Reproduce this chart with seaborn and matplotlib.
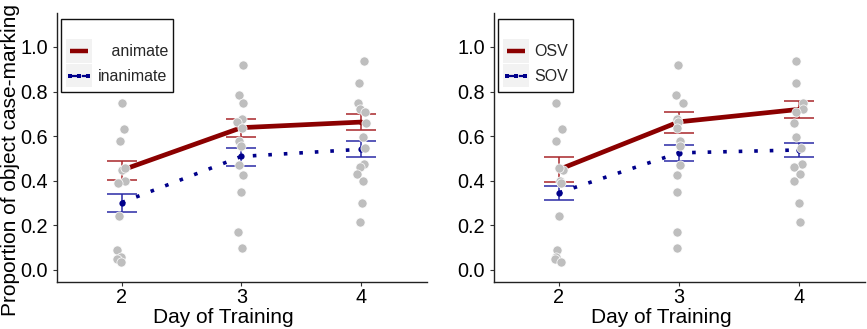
import numpy as np
import pandas as pd
import matplotlib
matplotlib.use("Agg")
import matplotlib.pyplot as plt
import seaborn as sns
from matplotlib.lines import Line2D
from matplotlib.patches import Rectangle
from matplotlib.legend_handler import HandlerBase

# ---------------- data ----------------
days = [2, 3, 4]

# per-participant proportions (grey points)
day2_points = [0.75, 0.63, 0.58, 0.45, 0.455, 0.40, 0.39, 0.24, 0.09, 0.06, 0.05, 0.035]
day3_points = [0.92, 0.785, 0.75, 0.675, 0.665, 0.635, 0.58, 0.555, 0.47, 0.425, 0.35, 0.17, 0.10]
day4_points = [0.935, 0.84, 0.75, 0.72, 0.71, 0.66, 0.595, 0.545, 0.475, 0.46, 0.43, 0.40, 0.30, 0.215]

# left panel: animacy
animate_mean = [0.447, 0.638, 0.663]
animate_lo = [0.405, 0.598, 0.629]
animate_hi = [0.490, 0.677, 0.697]
inanimate_mean = [0.302, 0.509, 0.541]
inanimate_lo = [0.262, 0.468, 0.505]
inanimate_hi = [0.341, 0.548, 0.577]

# right panel: word order
osv_mean = [0.450, 0.664, 0.720]
osv_lo = [0.393, 0.616, 0.682]
osv_hi = [0.508, 0.709, 0.757]
sov_mean = [0.346, 0.525, 0.538]
sov_lo = [0.312, 0.490, 0.506]
sov_hi = [0.378, 0.562, 0.570]

left_labels = ["   animate", "inanimate"]
right_labels = ["OSV", "SOV"]
y_ticks = [0.0, 0.2, 0.4, 0.6, 0.8, 1.0]
y_label = "Proportion of object case-marking"
x_label = "Day of Training"

pts = pd.DataFrame({
    "day": [2] * len(day2_points) + [3] * len(day3_points) + [4] * len(day4_points),
    "prop": day2_points + day3_points + day4_points,
})

# ---------------- style ----------------
sns.set_theme(style="ticks")
plt.rcParams["font.family"] = ["Liberation Sans", "DejaVu Sans"]

RED = "#8B0000"
BLUE = "#00008B"
RED_EB = "#A8262A"
BLUE_EB = "#2A2AA5"
GREY = "#BEBEBE"

W, H = 867, 329
fig = plt.figure(figsize=(W / 100, H / 100), dpi=100)


class KeyHandler(HandlerBase):
    """Legend key: light grey background square with a line sample on top."""

    def create_artists(self, legend, orig_handle, xdescent, ydescent, width, height,
                       fontsize, trans):
        x0, y0 = -xdescent, -ydescent
        rect = Rectangle((x0, y0), width, height, facecolor="#F2F2F2",
                         edgecolor="none", transform=trans)
        ym = y0 + height / 2
        xs = [x0 + 0.15 * width, x0 + 0.5 * width, x0 + 0.85 * width]
        line = Line2D(xs, [ym] * 3, color=orig_handle.get_color(),
                      linewidth=orig_handle.get_linewidth(),
                      linestyle=orig_handle.get_linestyle(),
                      marker=orig_handle.get_marker(),
                      markersize=orig_handle.get_markersize(),
                      markeredgewidth=0, solid_capstyle="butt", transform=trans)
        return [rect, line]


def draw(ax, mA, loA, hiA, mB, loB, hiB, labels, seed, xlab_center_px, left_px, width_px):
    # error bars
    ax.errorbar(days, mA, yerr=[np.array(mA) - np.array(loA), np.array(hiA) - np.array(mA)],
                fmt="none", ecolor=RED_EB, elinewidth=1.1, capsize=10.5, capthick=1.1, zorder=2)
    ax.errorbar(days, mB, yerr=[np.array(mB) - np.array(loB), np.array(hiB) - np.array(mB)],
                fmt="none", ecolor=BLUE_EB, elinewidth=1.1, capsize=10.5, capthick=1.1, zorder=2)
    # mean lines
    sns.lineplot(x=days, y=mA, color=RED, linewidth=3.4, solid_capstyle="butt",
                 marker="o", markersize=4, markeredgewidth=0, ax=ax, zorder=3, legend=False)
    sns.lineplot(x=days, y=mB, color=BLUE, linewidth=2.6, linestyle=(0, (1, 3.3)),
                 dash_capstyle="butt", marker="o", markersize=4.5, markeredgewidth=0,
                 ax=ax, zorder=3, legend=False)
    # participant points
    np.random.seed(seed)
    sns.stripplot(data=pts, x="day", y="prop", native_scale=True, jitter=0.04,
                  color=GREY, size=6.6, edgecolor="white", linewidth=0.5, ax=ax, zorder=4)

    ax.set_xlim(1.46, 4.55)
    ax.set_ylim(-0.054, 1.152)
    ax.set_xticks(days)
    ax.set_xticklabels([str(d) for d in days])
    ax.set_yticks(y_ticks)
    ax.set_yticklabels([f"{v:.1f}" for v in y_ticks])
    ax.set_ylabel("")
    for s in ["top", "right"]:
        ax.spines[s].set_visible(False)
    for s in ["left", "bottom"]:
        ax.spines[s].set_color("#222222")
        ax.spines[s].set_linewidth(1.0)
    ax.tick_params(axis="both", length=3.0, width=0.8, color="#333333",
                   labelsize=14.3, labelcolor="black", direction="out")
    ax.tick_params(axis="y", pad=3.5)
    ax.tick_params(axis="x", pad=1.5)
    ax.grid(False)

    ax.set_xlabel(x_label, fontsize=15, color="black")
    ax.xaxis.set_label_coords((xlab_center_px - left_px) / width_px, -40.7 / 269)
    ax.xaxis.label.set_va("baseline")

    h1 = Line2D([], [], color=RED, linewidth=3.2, linestyle="-", marker="None")
    h2 = Line2D([], [], color=BLUE, linewidth=1.6, linestyle=(0, (1.5, 1.5)),
                marker="s", markersize=3.2)
    leg = ax.legend([h1, h2], labels, loc="upper left",
                    bbox_to_anchor=(4 / width_px, 1 - 6 / 269), borderaxespad=0,
                    frameon=True, fancybox=False, fontsize=11.5,
                    handlelength=1.65, handleheight=1.85, handletextpad=0.35,
                    labelspacing=0.1, borderpad=0.3, title=" ", title_fontsize=10,
                    handler_map={Line2D: KeyHandler()})
    fr = leg.get_frame()
    fr.set_edgecolor("#111111")
    fr.set_linewidth(1.0)
    fr.set_facecolor("white")
    fr.set_alpha(1)
    leg.set_zorder(10)


def make_ax(l, r, t, b):
    return fig.add_axes([l / W, 1 - b / H, (r - l) / W, (b - t) / H])


ax1 = make_ax(57, 427, 13, 282)
ax2 = make_ax(494, 865, 13, 282)

draw(ax1, animate_mean, animate_lo, animate_hi, inanimate_mean, inanimate_lo, inanimate_hi,
     left_labels, 3, 223, 57, 370)
draw(ax2, osv_mean, osv_lo, osv_hi, sov_mean, sov_lo, sov_hi,
     right_labels, 5, 661, 494, 371)

fig.text(11 / W, 169 / H, y_label, rotation=90, va="center", ha="center",
         fontsize=15, color="black")

fig.savefig("out.png", dpi=100)
